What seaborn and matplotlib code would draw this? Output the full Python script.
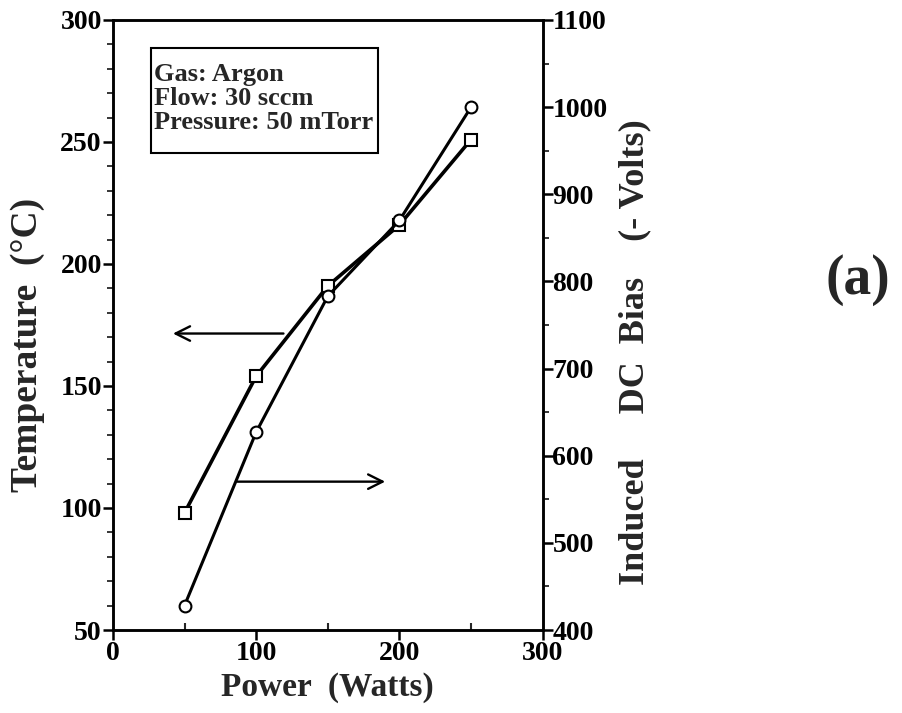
import matplotlib
matplotlib.use("Agg")
import matplotlib.pyplot as plt
from matplotlib.ticker import MultipleLocator
from matplotlib.patches import Rectangle
import seaborn as sns
import pandas as pd

# Measured data: substrate temperature and induced DC bias vs. RF power
power = [50, 100, 150, 200, 250]
temperature = [98, 154, 191, 216, 251]
dc_bias = [428, 627, 783, 870, 1000]

conditions = ["Gas: Argon", "Flow: 30 sccm", "Pressure: 50 mTorr"]

sns.set_style("ticks")
plt.rcParams["font.family"] = ["Liberation Serif", "DejaVu Serif"]
plt.rcParams["font.weight"] = "bold"
plt.rcParams["axes.labelweight"] = "bold"

df = pd.DataFrame({"power": power, "temperature": temperature, "dc_bias": dc_bias})

fig = plt.figure(figsize=(9.03, 7.13), dpi=100)
ax = fig.add_axes([0.125, 0.1164, 0.476, 0.8556])
ax2 = ax.twinx()

sns.lineplot(data=df, x="power", y="temperature", ax=ax, color="black",
             linewidth=2.6, marker="s", markersize=9, markerfacecolor="white",
             markeredgecolor="black", markeredgewidth=1.5, zorder=3)
sns.lineplot(data=df, x="power", y="dc_bias", ax=ax2, color="black",
             linewidth=2.2, marker="o", markersize=8.5, markerfacecolor="white",
             markeredgecolor="black", markeredgewidth=1.5, zorder=3)

ax.set_xlim(0, 300)
ax.set_ylim(50, 300)
ax2.set_ylim(400, 1100)

ax.xaxis.set_major_locator(MultipleLocator(100))
ax.xaxis.set_minor_locator(MultipleLocator(50))
ax.yaxis.set_major_locator(MultipleLocator(50))
ax.yaxis.set_minor_locator(MultipleLocator(10))
ax2.yaxis.set_major_locator(MultipleLocator(100))
ax2.yaxis.set_minor_locator(MultipleLocator(50))

for a in (ax, ax2):
    for s in a.spines.values():
        s.set_linewidth(1.8)
        s.set_color("black")
        s.set_visible(True)

ax.tick_params(axis="x", which="major", direction="out", length=7, width=1.8,
               labelsize=20, pad=1, colors="black")
ax.tick_params(axis="x", which="minor", direction="in", length=5, width=1.5)
ax.tick_params(axis="y", which="major", direction="out", length=7, width=1.8,
               labelsize=20, pad=1, colors="black")
ax.tick_params(axis="y", which="minor", direction="out", length=4, width=1.3)
ax2.tick_params(axis="y", which="major", direction="out", length=7, width=1.8,
                labelsize=20, pad=0, colors="black")
ax2.tick_params(axis="y", which="minor", direction="out", length=4, width=1.3)

for lbl in ax.get_xticklabels() + ax.get_yticklabels() + ax2.get_yticklabels():
    lbl.set_fontweight("bold")

ax.set_xlabel("Power  (Watts)", fontsize=24, fontweight="bold", labelpad=4)
ax.set_ylabel("Temperature  (°C)", fontsize=27, fontweight="bold")
ax.yaxis.set_label_coords(-0.158, 0.467)
ax2.set_ylabel("Induced     DC  Bias    (- Volts)", fontsize=26,
               fontweight="bold")
ax2.yaxis.set_label_coords(1.175, 0.455)

# Arrows pointing each curve to its axis
ax.annotate("", xy=(40, 171.5), xytext=(121, 171.5),
            arrowprops=dict(arrowstyle="->", color="black", lw=1.7,
                            mutation_scale=26))
ax.annotate("", xy=(192, 110.8), xytext=(85, 110.8),
            arrowprops=dict(arrowstyle="->", color="black", lw=1.7,
                            mutation_scale=26))

# Process conditions box
ax.add_patch(Rectangle((26.5, 245.4), 158.4, 43.1, facecolor="white",
                       edgecolor="black", linewidth=1.5, zorder=4))
ax.text(29.0, 282.3, "\n".join(conditions), fontsize=19, fontweight="bold",
        va="top", ha="left", linespacing=1.05, zorder=5)

fig.text(0.950, 0.607, "(a)", fontsize=40, fontweight="bold", ha="center",
         va="center")

fig.savefig("out.png", dpi=100, facecolor="white")
